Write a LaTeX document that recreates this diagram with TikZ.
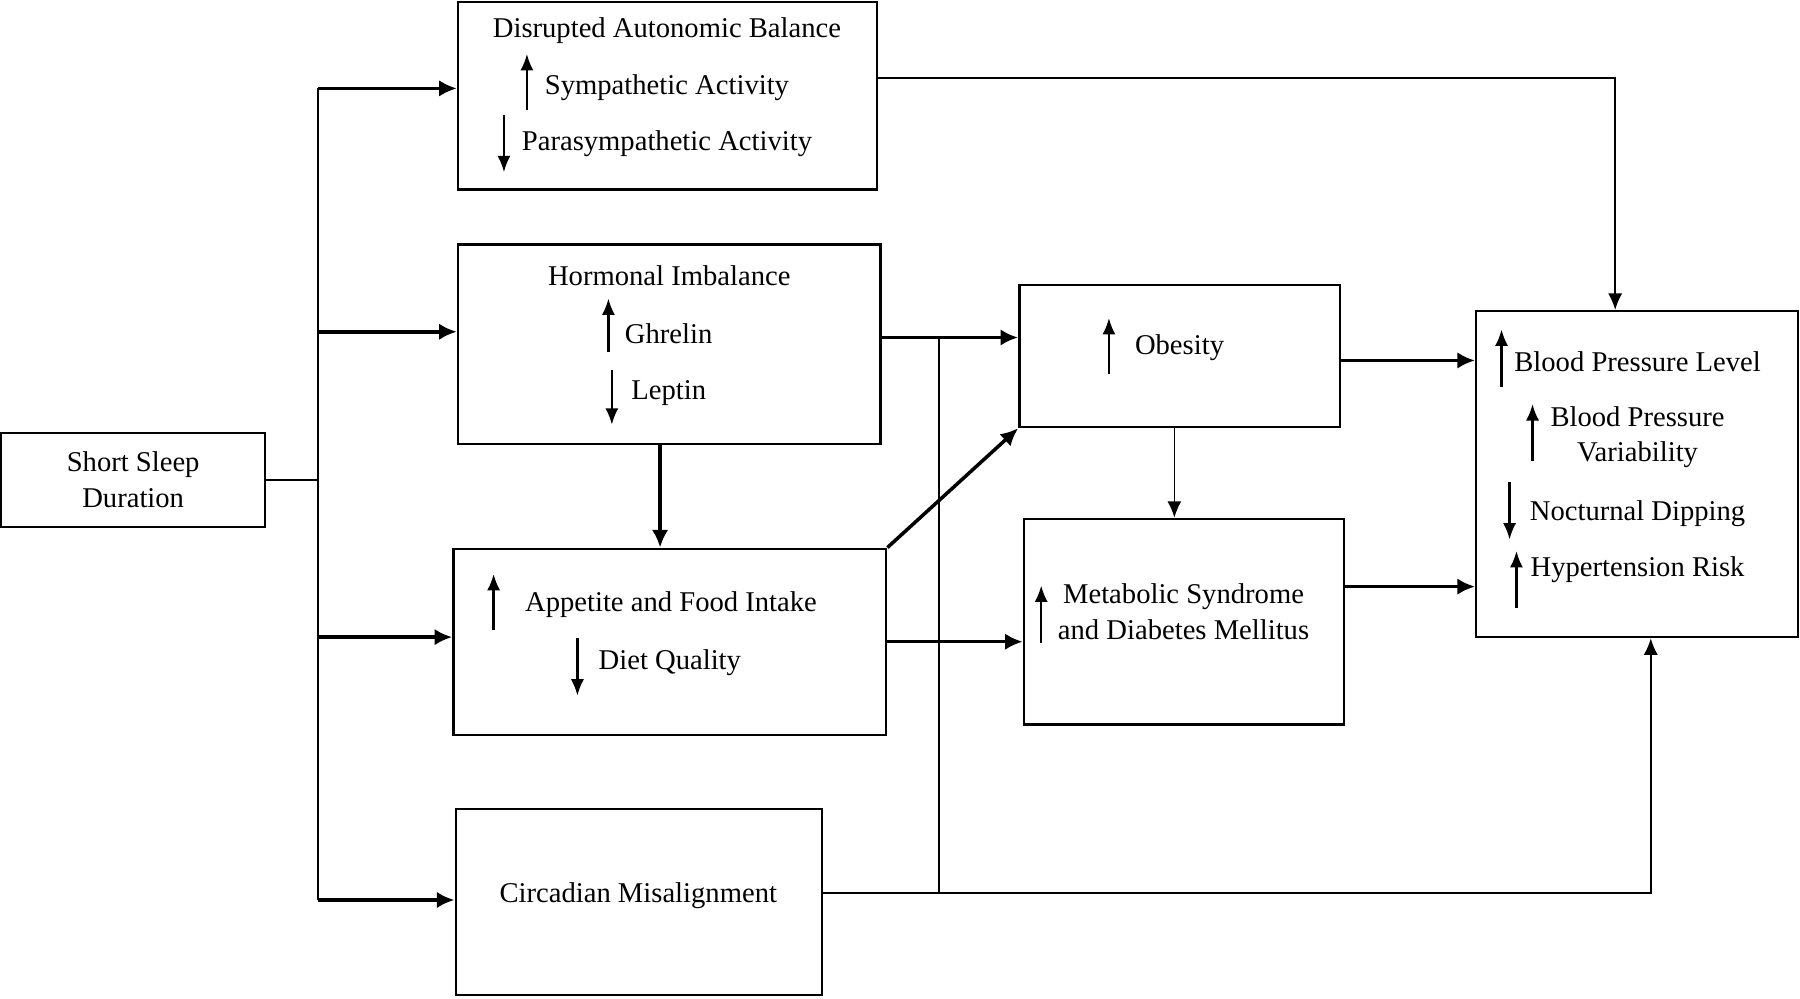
\documentclass[tikz,border=0pt]{standalone}
\usepackage{fontspec}
\setmainfont{Liberation Serif}
\usepackage{tikz}
\usetikzlibrary{shapes,arrows,arrows.meta,calc}
\tikzstyle{line} = [draw, line width=0.7pt, -{Latex[length=7pt,width=6pt]}]
\tikzstyle{thickline} = [draw, line width=1.5pt, -{Latex[length=7.5pt,width=7pt]}]
\tikzstyle{plain} = [draw, line width=0.6pt]
\tikzstyle{updown} = [draw, line width=1pt, -{Latex[length=7pt,width=5.6pt]}]
\tikzstyle{block} = [draw, rectangle, line width=1pt, inner sep=0pt, text centered]
\tikzstyle{txt} = [anchor=base, inner sep=0pt]

\begin{document}
\begin{tikzpicture}[x=0.0172cm, y=-0.0172cm, font=\fontsize{12.2}{15.1}\selectfont]
        \useasboundingbox (0,0) rectangle (1568,870);
        \node[block, minimum width=3.956cm, minimum height=1.410cm, align=center] (sleep) at (116,418) {Short Sleep\\Duration};
        \node[block, minimum width=6.278cm, minimum height=2.804cm] (autonomic) at (581.5,83.5) {};
        \node[block, minimum width=6.330cm, minimum height=2.993cm] (hormone) at (583,300) {};
        \node[block, minimum width=6.484cm, minimum height=2.786cm] (appetite) at (583.5,559) {};
        \node[block, minimum width=5.487cm, minimum height=2.786cm] (circadian) at (556.5,786) {};
        \node[block, minimum width=4.799cm, minimum height=2.133cm] (obesity) at (1027.5,310) {};
        \node[block, minimum width=4.799cm, minimum height=3.079cm] (metabolic) at (1031.5,541.5) {};
        \node[block, minimum width=4.816cm, minimum height=4.885cm] (bp) at (1426,413) {};

        \node[txt] (autotitle) at (581,33) {Disrupted Autonomic Balance};
        \node[txt] (symp) at (581,82) {Sympathetic Activity};
        \node[txt] (parasymp) at (581,131) {Parasympathetic Activity};
        \node[txt] (hormtitle) at (583,249) {Hormonal Imbalance};
        \node[txt] (ghrelin) at (582.5,299) {Ghrelin};
        \node[txt] (leptin) at (582.5,348) {Leptin};
        \node[txt] (intake) at (584.5,533) {Appetite and Food Intake};
        \node[txt] (diet) at (583.5,583) {Diet Quality};
        \node[txt] (circtext) at (556,786) {Circadian Misalignment};
        \node[txt] (obtext) at (1027.5,309) {Obesity};
        \node[align=center, inner sep=0pt] (mettext) at (1031,533) {Metabolic Syndrome\\and Diabetes Mellitus};
        \node[txt] (bplevel) at (1426.5,324) {Blood Pressure Level};
        \node[align=center, inner sep=0pt] (bpvar) at (1426.5,381) {Blood Pressure\\Variability};
        \node[txt] (dipping) at (1426.5,453) {Nocturnal Dipping};
        \node[txt] (htrisk) at (1426.5,502) {Hypertension Risk};

        \foreach \x/\a/\b in {459/96/47, 439/100/150, 530/307/260, 533/322/370, 430/549/500, 503/556/606, 966/326/277, 907/560/510, 1308/337/287, 1335/402/352, 1315/420/470, 1321/530/480}
            \path[updown] (\x,\a) -- (\x,\b);

        \coordinate (trunk) at (277,418);
        \coordinate (btop) at (277,77);
        \coordinate (bhorm) at (277,289);
        \coordinate (bapp) at (277,555);
        \coordinate (bcirc) at (277,784);
        \path[plain] (sleep.east) -- (trunk);
        \path[plain] (btop) -- (bcirc);
        \path[thickline] (btop) -- (btop -| autonomic.west);
        \path[thickline] (bhorm) -- (bhorm -| hormone.west);
        \path[thickline] (bapp) -- (bapp -| appetite.west);
        \path[thickline] (bcirc) -- (bcirc -| circadian.west);

        \coordinate (autobend) at (1407,68);
        \path[line] (autobend -| autonomic.east) -- (autobend) -- (autobend |- bp.north);
        \coordinate (hormsplit) at (818,294);
        \coordinate (circjoin) at (818,778);
        \path[thickline] (hormsplit -| hormone.east) -- (hormsplit -| obesity.west);
        \path[plain] (hormsplit) -- (circjoin);
        \coordinate (hormdown) at (575,0);
        \path[thickline] (hormdown |- hormone.south) -- (hormdown |- appetite.north);
        \path[thickline] (appetite.north east) -- (obesity.south west);
        \path[thickline] (appetite.east) -- (appetite.east -| metabolic.west);
        \coordinate (obdown) at (1023,0);
        \path[line] (obdown |- obesity.south) -- (obdown |- metabolic.north);
        \coordinate (obbp) at (1200,314);
        \path[thickline] (obbp -| obesity.east) -- (obbp -| bp.west);
        \coordinate (metbp) at (1200,511);
        \path[thickline] (metbp -| metabolic.east) -- (metbp -| bp.west);
        \coordinate (circbend) at (1438,778);
        \path[line] (circbend -| circadian.east) -- (circbend) -- (circbend |- bp.south);
    \end{tikzpicture}
\end{document}
